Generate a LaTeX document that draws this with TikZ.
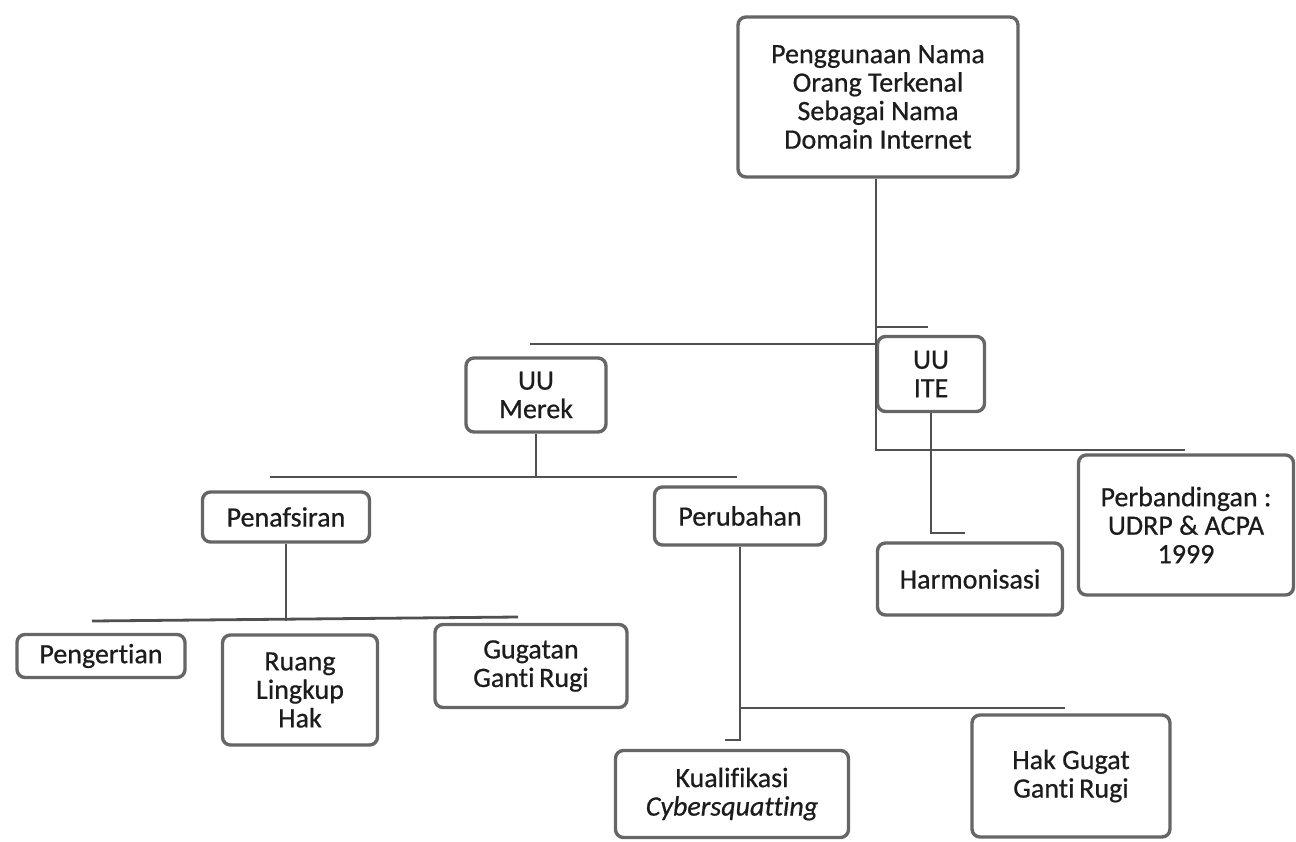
\documentclass[tikz,border=0pt]{standalone}
\usepackage{fontspec}
\setmainfont{Carlito}[Ligatures=NoCommon, FakeBold=0.6]
\usepackage{xcolor}
\usepackage{tikz}

\definecolor{tepi}{HTML}{666666}
\definecolor{garisabu}{HTML}{505050}
\definecolor{tulisan}{HTML}{1C1C1C}

\tikzset{
  kotak/.style={draw=tepi, line width=3.4pt, rounded corners=8pt, fill=white,
    align=center, inner sep=0pt, text=tulisan,
    font=\fontsize{28}{28.5}\selectfont},
  garis/.style={draw=garisabu, line width=2.8pt}
}

\begin{document}
\begin{tikzpicture}[x=1pt, y=-1pt]
        \useasboundingbox (0,0) rectangle (1296,841);

        \node[kotak, minimum width=280pt, minimum height=160pt] (judul) at (878,97)
            {Penggunaan Nama\\Orang Terkenal\\Sebagai Nama\\Domain Internet};
        \node[kotak, minimum width=140pt, minimum height=74pt] (merek) at (536,395) {UU\\Merek};
        \node[kotak, minimum width=107pt, minimum height=75pt] (ite) at (931,374) {UU\\ITE};
        \node[kotak, minimum width=167pt, minimum height=50pt] (tafsir) at (286,517) {Penafsiran};
        \node[kotak, minimum width=171pt, minimum height=58pt] (ubah) at (740,516) {Perubahan};
        \node[kotak, minimum width=185pt, minimum height=72pt] (harmon) at (970,579) {Harmonisasi};
        \node[kotak, minimum width=215pt, minimum height=140pt] (banding) at (1186,525)
            {Perbandingan :\\UDRP \& ACPA\\1999};
        \node[kotak, minimum width=168pt, minimum height=43pt] (arti) at (101,656) {Pengertian};
        \node[kotak, minimum width=155pt, minimum height=110pt] (ruang) at (300,690) {Ruang\\Lingkup\\Hak};
        \node[kotak, minimum width=192pt, minimum height=83pt] (gugatan) at (531,666) {Gugatan\\Ganti\,Rugi};
        \node[kotak, minimum width=233pt, minimum height=87pt] (kualif) at (732,794)
            {Kualifikasi\\\textit{Cybersquatting}};
        \node[kotak, minimum width=198pt, minimum height=122pt] (hakgugat) at (1071,776) {Hak Gugat\\Ganti\,Rugi};

        \coordinate (pokok) at (876,450);
        \coordinate (ujungkanan) at (1185,450);
        \coordinate (ujungkiri) at (530,344);
        \coordinate (taji) at (928,327);
        \coordinate (merekkiri) at (270,477);
        \coordinate (merekkanan) at (737,477);
        \coordinate (itetaji) at (965,533);
        \coordinate (tafsirkiri) at (92,621);
        \coordinate (tafsirkanan) at (518,617);
        \coordinate (ubahtaji) at (725,740);
        \coordinate (ubahkanan) at (1065,708);

        \draw[garis] (judul.south -| pokok) -- (pokok) -- (ujungkanan);
        \draw[garis] (ujungkiri) -- (ujungkiri -| pokok); % bar to UU Merek
        \draw[garis] (taji -| pokok) -- (taji);
        \draw[garis] (merek.south) -- (merek.south |- merekkiri);
        \draw[garis] (merekkiri) -- (merekkanan);
        \draw[garis] (ite.south) -- (ite.south |- itetaji) -- (itetaji);
        \draw[garis] (tafsir.south) -- (tafsir.south |- tafsirkiri);
        \draw[garis] (tafsirkiri) -- (tafsirkanan);
        \draw[garis] (ubah.south) -- (ubah.south |- ubahtaji) -- (ubahtaji);
        \draw[garis] (ubah.south |- ubahkanan) -- (ubahkanan);
    \end{tikzpicture}
\end{document}
